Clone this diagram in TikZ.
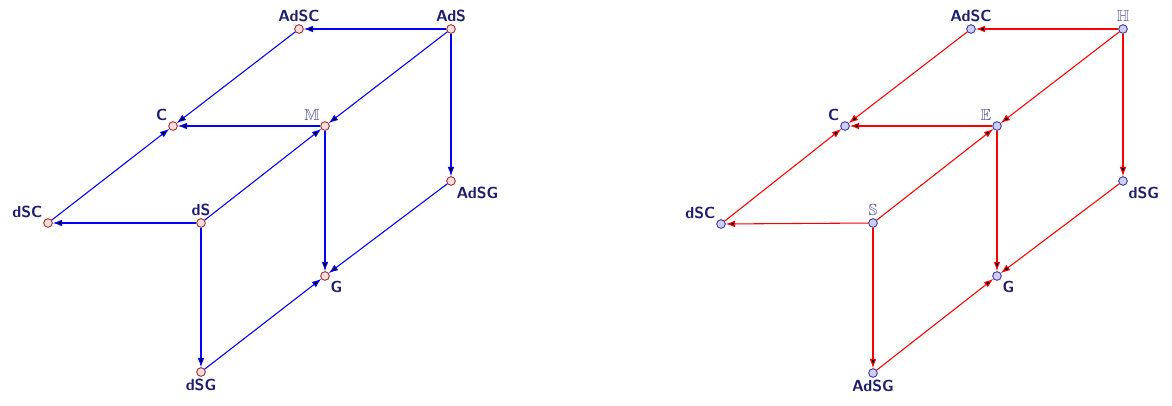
\documentclass[tikz,border=0pt]{standalone}
\usepackage{tikz}
\usetikzlibrary{arrows.meta}
\usepackage{amsmath, amssymb}
\definecolor{labelnavy}{RGB}{30,30,110}
\definecolor{bbgray}{RGB}{80,80,150}
\definecolor{ptred}{RGB}{150,25,25}
\definecolor{ptpink}{RGB}{252,222,222}
\definecolor{ptblue}{RGB}{40,40,150}
\definecolor{ptlav}{RGB}{205,205,245}

\begin{document}
\begin{tikzpicture}[x=0.75pt, y=-0.75pt,
        redpt/.style = {draw=ptred, fill=ptpink, circle, inner sep=0pt, minimum size=6.5pt, line width=0.6pt},
        bluept/.style = {draw=ptblue, fill=ptlav, circle, inner sep=0pt, minimum size=6.5pt, line width=0.6pt},
        lbl/.style = {text=labelnavy, font=\sffamily\bfseries\fontsize{12}{14}\selectfont, inner sep=1.5pt},
        bbl/.style = {text=bbgray, font=\fontsize{12}{14}\selectfont, inner sep=1.5pt},
        bluearr/.style = {draw=blue, line width=0.8pt, -{Latex[length=7pt,width=5pt]}},
        redarr/.style = {draw=red, line width=0.8pt, -{Latex[length=7pt,width=5pt]}}]
            \useasboundingbox (0,0) rectangle (1172,406);

            % left cube
            \node[redpt] (AdSC) at (299,29) [label={[lbl]above:AdSC}] {};
            \node[redpt] (AdS) at (451,29) [label={[lbl]above:AdS}] {};
            \node[redpt] (C) at (173,126) [label={[lbl]above left:C}] {};
            \node[redpt] (M) at (325,126) [label={[bbl]above left:$\mathbb{M}$}] {};
            \node[redpt] (AdSG) at (451,181) [label={[lbl]below right:AdSG}] {};
            \node[redpt] (dSC) at (48,223) [label={[lbl]above left:dSC}] {};
            \node[redpt] (dS) at (201,223) [label={[lbl]above:dS}] {};
            \node[redpt] (G) at (325,276) [label={[lbl]below right:G}] {};
            \node[redpt] (dSG) at (201,372) [label={[lbl]below:dSG}] {};

            \path[bluearr] (AdS) edge (AdSC);
            \path[bluearr] (AdS) edge (M);
            \path[bluearr] (AdS) edge (AdSG);
            \path[bluearr] (AdSC) edge (C);
            \path[bluearr] (M) edge (C);
            \path[bluearr] (M) edge (G);
            \path[bluearr] (dSC) edge (C);
            \path[bluearr] (dS) edge (dSC);
            \path[bluearr] (dS) edge (M);
            \path[bluearr] (dS) edge (dSG);
            \path[bluearr] (AdSG) edge (G);
            \path[bluearr] (dSG) edge (G);

            % right cube
            \node[bluept] (AdSC2) at (971,29) [label={[lbl]above:AdSC}] {};
            \node[bluept] (H) at (1123,29) [label={[bbl]above:$\mathbb{H}$}] {};
            \node[bluept] (C2) at (845,126) [label={[lbl]above left:C}] {};
            \node[bluept] (E) at (997,126) [label={[bbl]above left:$\mathbb{E}$}] {};
            \node[bluept] (dSG2) at (1123,181) [label={[lbl]below right:dSG}] {};
            \node[bluept] (dSC2) at (721,224) [label={[lbl]above left:dSC}] {};
            \node[bluept] (S) at (873,223) [label={[bbl]above:$\mathbb{S}$}] {};
            \node[bluept] (G2) at (997,276) [label={[lbl]below right:G}] {};
            \node[bluept] (AdSG2) at (873,373) [label={[lbl]below:AdSG}] {};

            \path[redarr] (H) edge (AdSC2);
            \path[redarr] (H) edge (E);
            \path[redarr] (H) edge (dSG2);
            \path[redarr] (AdSC2) edge (C2);
            \path[redarr] (E) edge (C2);
            \path[redarr] (E) edge (G2);
            \path[redarr] (dSC2) edge (C2);
            \path[redarr] (S) edge (dSC2);
            \path[redarr] (S) edge (E);
            \path[redarr] (S) edge (AdSG2);
            \path[redarr] (dSG2) edge (G2);
            \path[redarr] (AdSG2) edge (G2);
        \end{tikzpicture}
\end{document}
